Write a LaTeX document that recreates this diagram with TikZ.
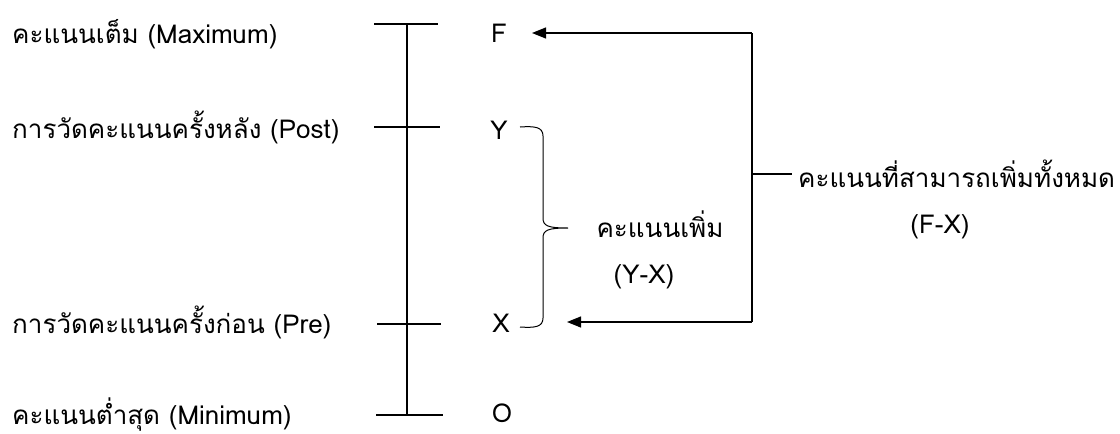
\documentclass[tikz,border=0pt]{standalone}
\usepackage{fontspec}
\setmainfont[Script=Thai]{Loma}
\usetikzlibrary{arrows.meta}
\begin{document}
\begin{tikzpicture}[x=1pt,y=-1pt,
  every node/.style={inner sep=0pt,font=\fontsize{26}{30}\selectfont},
  lbl/.style={anchor=base west},
  mid/.style={anchor=base},
  ln/.style={line width=1.2pt,black},
  arr/.style={ln,-{Triangle[length=14pt,width=11pt]}}]
\useasboundingbox (0,0) rectangle (1120,434);
\fill[white] (0,0) rectangle (1120,434);
% left labels
\node[lbl] (lmax) at (12,43) {คะแนนเต็ม (Maximum)};
\node[lbl] (lpost) at (12,138) {การวัดคะแนนครั้งหลัง (Post)};
\node[lbl] (lpre) at (12,333) {การวัดคะแนนครั้งก่อน (Pre)};
\node[lbl] (lmin) at (12,424) {คะแนนต่ำสุด (Minimum)};
% scale
\coordinate (top) at (407,24);
\coordinate (bot) at (407,415);
\draw[ln] (top) -- (bot);
\coordinate (tF1) at (374,24);  \coordinate (tF2) at (438,24);
\coordinate (tY1) at (374,127); \coordinate (tY2) at (440,127);
\coordinate (tX1) at (377,324); \coordinate (tX2) at (441,324);
\coordinate (tO1) at (376,415); \coordinate (tO2) at (443,415);
\draw[ln] (tF1) -- (tF2);
\draw[ln] (tY1) -- (tY2);
\draw[ln] (tX1) -- (tX2);
\draw[ln] (tO1) -- (tO2);
% letters
\node[mid] (F) at (499,42) {F};
\node[mid] (Y) at (499,139) {Y};
\node[mid] (X) at (501,332) {X};
\node[mid] (O) at (502,422) {O};
% brace
\coordinate (bt) at (520,127);
\coordinate (bb) at (520,327);
\coordinate (btip) at (568,228);
\draw[ln,line width=1pt] (bt) .. controls (535,126) and (543,127) .. (543,136)
  -- (543,218) .. controls (543,226) and (548,228) .. (btip)
  (btip) .. controls (548,228) and (543,230) .. (543,238)
  -- (543,318) .. controls (543,327) and (535,328) .. (bb);
\node[mid] (gain) at (660,237) {คะแนนเพิ่ม};
\node[mid] (gainf) at (644,283) {(Y-X)};
% right connector
\coordinate (cT) at (752,33);
\coordinate (cB) at (752,322);
\coordinate (cM) at (752,174);
\coordinate (cL) at (792,174);
\coordinate (aF) at (532,33);
\coordinate (aX) at (567,322);
\draw[ln] (cT) -- (cB);
\draw[arr] (cT) -- (aF);
\draw[arr] (cB) -- (aX);
\draw[ln] (cM) -- (cL);
\node[lbl] (tot) at (798,187) {คะแนนที่สามารถเพิ่มทั้งหมด};
\node[mid] (totf) at (940,233) {(F-X)};
\end{tikzpicture}
\end{document}
